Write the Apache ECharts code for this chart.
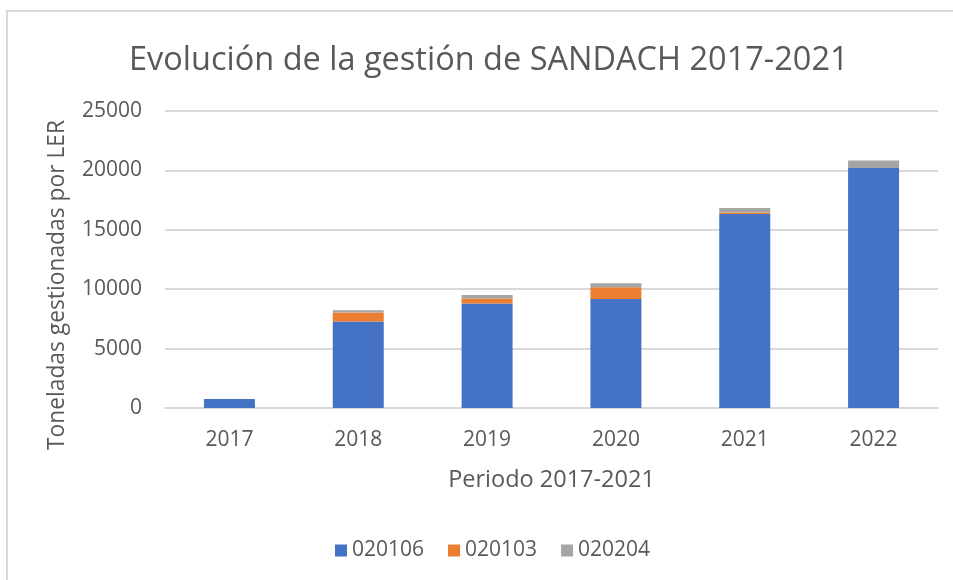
<!DOCTYPE html>
<html>
<head>
<meta charset="utf-8">
<script src="https://cdn.jsdelivr.net/npm/echarts@6/dist/echarts.min.js"></script>
<style>
html,body{margin:0;padding:0;background:#fff;}
#c{width:953px;height:580px;}
</style>
</head>
<body>
<div id="c"></div>
<script>
const categories = ['2017','2018','2019','2020','2021','2022'];
const s020106 = [750, 7280, 8790, 9180, 16320, 20210];
const s020103 = [0, 750, 420, 980, 130, 0];
const s020204 = [0, 200, 310, 340, 380, 620];
const yTicks = [0, 5000, 10000, 15000, 20000, 25000];

const FONT = '"Open Sans", "Noto Sans", sans-serif';
const TXT = '#595959';
const chart = echarts.init(document.getElementById('c'), null, {renderer: 'canvas'});
const barW = 51;
chart.setOption({
  animation: false,
  backgroundColor: '#fff',
  textStyle: {fontFamily: FONT},
  title: {
    text: 'Evolución de la gestión de SANDACH 2017-2021',
    left: 124, top: 39,
    textStyle: {fontFamily: FONT, fontSize: 32.5, fontWeight: 'normal', color: TXT}
  },
  graphic: [
    {type: 'rect', shape: {x: 7, y: 11, width: 1000, height: 1000},
     style: {fill: 'none', stroke: '#D9D9D9', lineWidth: 2}, z: -1},
    {type: 'text', x: 58, y: 285, rotation: Math.PI / 2,
     style: {text: 'Toneladas gestionadas por LER', fill: TXT, font: '22.8px ' + FONT,
             textAlign: 'center', textVerticalAlign: 'middle'}}
  ],
  legend: {
    bottom: 14, left: 330, itemWidth: 12, itemHeight: 12, itemGap: 24,
    icon: 'rect',
    textStyle: {fontFamily: FONT, fontSize: 21, color: TXT},
    data: ['020106','020103','020204']
  },
  grid: {left: 165, right: 15, top: 111, bottom: 172, containLabel: false},
  xAxis: {
    type: 'category', data: categories,
    name: 'Periodo 2017-2021', nameLocation: 'middle', nameGap: 60,
    nameTextStyle: {fontFamily: FONT, fontSize: 23.5, color: TXT},
    axisLine: {lineStyle: {color: '#D9D9D9', width: 2}},
    axisTick: {show: false},
    axisLabel: {fontFamily: FONT, fontSize: 21, color: TXT, margin: 22},
  },
  yAxis: {
    type: 'value', min: 0, max: 25000, interval: 5000,
    axisLine: {show: false}, axisTick: {show: false},
    axisLabel: {fontFamily: FONT, fontSize: 21, color: TXT, margin: 23,
      formatter: v => yTicks.includes(v) ? String(v) : ''},
    splitLine: {lineStyle: {color: '#D9D9D9', width: 2}}
  },
  series: [
    {name: '020106', type: 'bar', stack: 't', data: s020106, barWidth: barW,
     itemStyle: {color: '#4472C4'}},
    {name: '020103', type: 'bar', stack: 't', data: s020103, barWidth: barW,
     itemStyle: {color: '#ED7D31'}},
    {name: '020204', type: 'bar', stack: 't', data: s020204, barWidth: barW,
     itemStyle: {color: '#A5A5A5'}}
  ]
});
</script>
</body>
</html>
